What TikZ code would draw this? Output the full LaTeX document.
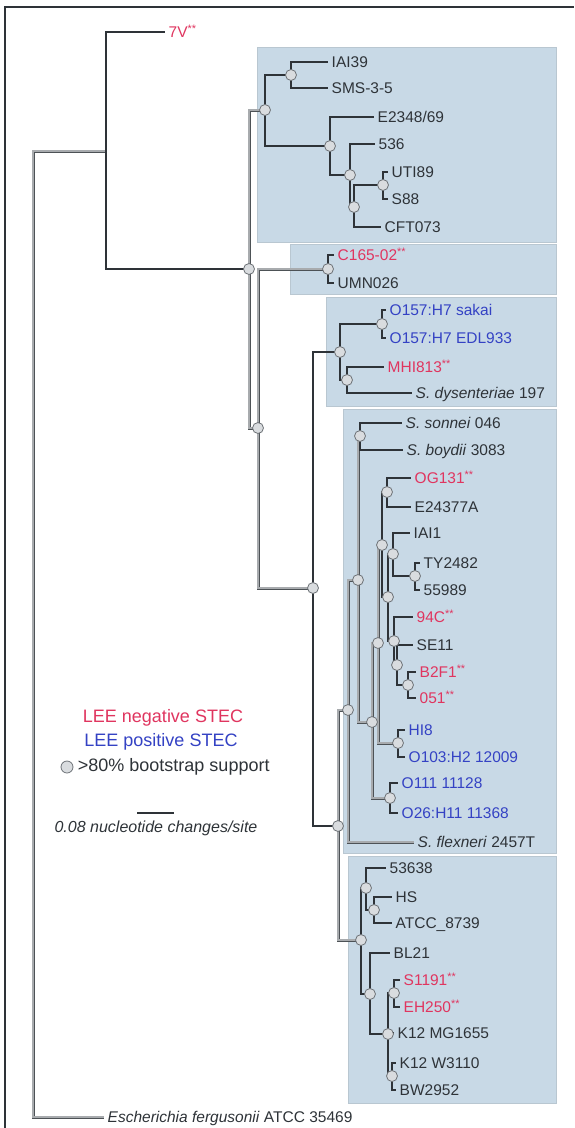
\documentclass[tikz,border=0pt]{standalone}
\usepackage{fontspec}
\setmainfont{Liberation Sans}
\usetikzlibrary{positioning}
\definecolor{TRBox}{HTML}{C8D9E6}
\definecolor{TRLine}{HTML}{2E3338}
\definecolor{TRGray}{HTML}{6E7378}
\definecolor{TRDot}{HTML}{D9DCDF}
\definecolor{TRRed}{HTML}{E0355F}
\definecolor{TRBlue}{HTML}{3442C4}

\begin{document}
\begin{tikzpicture}[x=1pt,y=-1pt,
  br/.style={draw=TRLine,line width=1.6pt},
  brg/.style={draw=TRLine!85,line width=.7pt,double=TRGray!60,double distance=1.6pt},
  bs/.style={circle,draw=TRGray,fill=TRDot,line width=.8pt,minimum size=11pt,inner sep=0pt},
  lf/.style={anchor=west,inner sep=3.5pt,font=\fontsize{15.5}{17}\selectfont,text=TRLine,text height=11pt,text depth=0pt},
  lneg/.style={lf,text=TRRed},
  lpos/.style={lf,text=TRBlue},
  clade/.style={fill=TRBox,draw=TRBox!80!gray,line width=.6pt},
  legtext/.style={font=\fontsize{18}{20}\selectfont,text=TRLine}]
\useasboundingbox (0,0) rectangle (574,1128);
\fill[white] (0,0) rectangle (574,1128);
\draw[clade] (257,47) rectangle (556,242);
\draw[clade] (290,244) rectangle (556,294);
\draw[clade] (326,297) rectangle (556,406);
\draw[clade] (343,409) rectangle (556,853);
\draw[clade] (348,856) rectangle (556,1103);
\draw[TRLine,line width=2.2pt] (5,1128) -- (5,7) -- (574,7);

\foreach \n/\x/\y in {root/33/634,A/106/151,B/249/269,T/265/110,n1/291/75,n2/330/146,n3/350/175,
  n4/354/207,us/383/185,cc/328/269,D/258/428,F/313/588,P1/340/352,ob/382/324,mh/347/380,
  G/338/826,H/348/710,J/358/580,K/360/436,L/372/722,U/378/643,c1/382/545,a1/387/492,
  c4/388/597,c2/393/554,c3/415/576,c5/394/641,c6/397/665,c7/408/685,ho/398/743,oo/390/798,
  I/361/940,M/366/888,N/374/910,O/370/994,Q/394/993,P/388/1034,R/392/1076}
  \coordinate (\n) at (\x,\y);

\node[lneg] (v7) at (165,32) {7V\textsuperscript{**}};
\node[lf] (iai39) at (328,62) {IAI39};
\node[lf] (sms) at (328,88) {SMS-3-5};
\node[lf] (e2348) at (374,117) {E2348/69};
\node[lf] (k536) at (375,144) {536};
\node[lf] (uti) at (388,172) {UTI89};
\node[lf] (s88) at (388,199) {S88};
\node[lf] (cft) at (381,227) {CFT073};
\node[lneg] (c165) at (334,255) {C165-02\textsuperscript{**}};
\node[lf] (umn) at (334,283) {UMN026};
\node[lpos] (sak) at (386,310) {O157:H7 sakai};
\node[lpos] (edl) at (386,338) {O157:H7 EDL933};
\node[lneg] (mhi) at (384,367) {MHI813\textsuperscript{**}};
\node[lf] (dys) at (412,393) {\textit{S. dysenteriae} 197};
\node[lf] (son) at (402,423) {\textit{S. sonnei} 046};
\node[lf] (boy) at (403,450) {\textit{S. boydii} 3083};
\node[lneg] (og) at (411,478) {OG131\textsuperscript{**}};
\node[lf] (e243) at (411,507) {E24377A};
\node[lf] (iai1) at (410,533) {IAI1};
\node[lf] (ty) at (420,563) {TY2482};
\node[lf] (s559) at (420,590) {55989};
\node[lneg] (c94) at (413,617) {94C\textsuperscript{**}};
\node[lf] (se11) at (413,645) {SE11};
\node[lneg] (b2f) at (416,672) {B2F1\textsuperscript{**}};
\node[lneg] (g51) at (416,698) {051\textsuperscript{**}};
\node[lpos] (hi8) at (405,730) {HI8};
\node[lpos] (o103) at (405,757) {O103:H2 12009};
\node[lpos] (o111) at (398,783) {O111 11128};
\node[lpos] (o26) at (398,813) {O26:H11 11368};
\node[lf] (flx) at (414,842) {\textit{S. flexneri} 2457T};
\node[lf] (e53638) at (386,868) {53638};
\node[lf] (hs) at (392,897) {HS};
\node[lf] (atcc) at (392,923) {ATCC\_8739};
\node[lf] (bl21) at (390,953) {BL21};
\node[lneg] (s1191) at (400,980) {S1191\textsuperscript{**}};
\node[lneg] (eh250) at (400,1007) {EH250\textsuperscript{**}};
\node[lf] (mg) at (394,1033) {K12 MG1655};
\node[lf] (w3110) at (396,1063) {K12 W3110};
\node[lf] (bw) at (396,1090) {BW2952};
\node[lf] (ferg) at (104,1117) {\textit{Escherichia fergusonii} ATCC 35469};

\foreach \p/\c in {root/A,root/ferg,B/T,B/D,D/cc,D/F,G/H,G/I,H/J,H/flx,J/K,J/L,L/U,L/oo,U/c1,U/ho}
  \draw[brg] (\p) |- (\c);
\foreach \p/\c in {A/v7,A/B,T/n1,T/n2,n1/iai39,n1/sms,n2/e2348,n2/n3,n3/k536,n3/n4,n4/us,n4/cft,
  us/uti,us/s88,cc/c165,cc/umn,F/P1,F/G,P1/ob,P1/mh,ob/sak,ob/edl,mh/mhi,mh/dys,K/son,K/boy,
  c1/a1,c1/c4,a1/og,a1/e243,c4/c2,c4/c5,c2/iai1,c2/c3,c3/ty,c3/s559,c5/c94,c5/c6,c6/se11,c6/c7,
  c7/b2f,c7/g51,ho/hi8,ho/o103,oo/o111,oo/o26,I/M,I/O,M/e53638,M/N,N/hs,N/atcc,O/bl21,O/P,
  P/Q,P/mg,P/R,Q/s1191,Q/eh250,R/w3110,R/bw}
  \draw[br] (\p) |- (\c);
\foreach \n in {B,T,n1,n2,n3,n4,us,cc,D,F,P1,ob,mh,G,H,J,K,L,U,c1,a1,c4,c2,c3,c5,c6,c7,ho,oo,I,M,N,O,Q,P,R}
  \node[bs] at (\n) {};

\node[legtext,text=TRRed] (kneg) at (163,718) {LEE negative STEC};
\node[legtext,text=TRBlue] (kpos) at (161,742) {LEE positive STEC};
\node[bs,minimum size=12pt] (kdot) at (67,767) {};
\node[legtext,right=1pt of kdot] (kboot) {>80\% bootstrap support};
\coordinate (sb1) at (137,813);
\coordinate (sb2) at (174,813);
\draw[br] (sb1) -- (sb2);
\node[font=\itshape\fontsize{16}{18}\selectfont,text=TRLine] (sbt) at (156,828) {0.08 nucleotide changes/site};
\end{tikzpicture}
\end{document}
